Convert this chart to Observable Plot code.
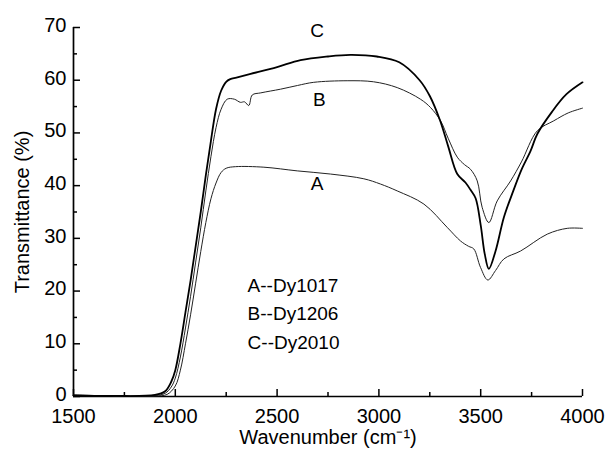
<!DOCTYPE html>
<html>
<head>
<meta charset="utf-8">
<script src="https://cdn.jsdelivr.net/npm/d3@7"></script>
<script src="https://cdn.jsdelivr.net/npm/@observablehq/plot@0.6"></script>
<style>
  html, body { margin: 0; padding: 0; background: #fff; }
  #chart svg { display: block; }
</style>
</head>
<body>
<div id="chart"></div>
<script>
// Series C (Dy2010, thick line)
const cX = [1500,1700,1900,1950,1980,2000,2025,2050,2075,2100,2125,2150,2175,2200,2225,2250,2270,2300,2370,2500,2615,2750,2860,2990,3100,3200,3250,3300,3340,3385,3425,3450,3475,3500,3520,3540,3573,3614,3660,3700,3745,3778,3850,3920,4000];
const cY = [0.2,0.1,0.3,1,2.8,5,10,16,22,28.5,35,42,48.5,54.5,58,59.7,60.2,60.5,61.2,62.5,63.8,64.5,64.8,64.5,63.4,60,57,52.4,47.5,42.2,40.6,39.2,37.6,32.5,27,24.2,27.6,34,39,43,46.6,49.8,54,57.3,59.6];
// Series B (Dy1206)
const bX = [1500,1700,1900,1950,1980,2000,2025,2050,2075,2100,2125,2150,2175,2200,2225,2255,2290,2320,2340,2361,2378,2420,2517,2600,2680,2844,2974,3090,3204,3254,3303,3340,3385,3420,3450,3483,3507,3540,3581,3647,3700,3778,3859,3930,4000];
const bY = [0.2,0.1,0.2,0.6,1.8,3.5,7.5,13,19,25.5,32,39,45.5,51,54.5,56.4,56.4,55.8,55.9,55.2,57.2,57.6,58.3,59,59.6,59.9,59.7,58.6,56.4,54.8,52.3,49,45.4,44,43.1,40.9,35.9,33,37.1,40.9,44.5,50.4,52.3,53.8,54.7];
// Series A (Dy1017)
const aX = [1500,1700,1900,1960,2000,2025,2050,2075,2100,2125,2150,2175,2200,2225,2250,2296,2435,2599,2762,2926,3008,3090,3221,3335,3401,3440,3466,3499,3535,3573,3614,3696,3827,3925,4000];
const aY = [0.3,0.1,0.1,0.4,2,5,10,15.5,21.5,27.5,33,37.5,40.5,42.5,43.3,43.6,43.5,42.8,42.2,41.3,40.3,39,36.5,32.1,29.5,28.5,28,24.5,22.1,23.9,26.1,27.6,30.8,31.9,31.9];

const xTicks = [1500,2000,2500,3000,3500,4000];
const xMinor = [1750,2250,2750,3250,3750];
const yTicks = [0,10,20,30,40,50,60,70];
const yMinor = [5,15,25,35,45,55,65];

const curveLabels = ["C","B","A"];
const curveLabelX = [2697,2707,2697];
const curveLabelY = [69.4,56.3,40.4];
const legendLines = ["A--Dy1017","B--Dy1206","C--Dy2010"];
const legendX = [2355,2355,2355];
const legendY = [21,15.7,10.2];

const toRows = (xs, ys) => xs.map((x, i) => ({x, y: ys[i]}));
const A = toRows(aX, aY), B = toRows(bX, bY), C = toRows(cX, cY);
const font = "'Liberation Sans', Arial, Helvetica, sans-serif";

const chart = Plot.plot({
  width: 611,
  height: 461,
  marginLeft: 73,
  marginRight: 29,
  marginTop: 27,
  marginBottom: 65,
  style: {fontFamily: font, color: "#000", background: "#fff"},
  x: {domain: [1500, 4000]},
  y: {domain: [0, 70]},
  marks: [
    Plot.axisX(xTicks, {tickSize: 0, tickPadding: 12, fontSize: 20, label: null, tickFormat: d => String(d)}),
    Plot.axisX(xTicks, {tickSize: -7, tickFormat: () => "", label: null, strokeWidth: 1.5}),
    Plot.axisX(xMinor, {tickSize: -4, tickFormat: () => "", label: null, strokeWidth: 1.5}),
    Plot.axisY(yTicks, {tickSize: 0, tickPadding: 7, fontSize: 20, label: null, dy: -2, tickFormat: d => String(d)}),
    Plot.axisY(yTicks, {tickSize: -7, tickFormat: () => "", label: null, strokeWidth: 1.5}),
    Plot.axisY(yMinor, {tickSize: -4, tickFormat: () => "", label: null, strokeWidth: 1.5}),
    Plot.ruleY([0], {strokeWidth: 1.7}),
    Plot.ruleX([1500], {strokeWidth: 1.7}),
    Plot.line(A, {x: "x", y: "y", stroke: "#222", strokeWidth: 1, curve: "catmull-rom"}),
    Plot.line(B, {x: "x", y: "y", stroke: "#222", strokeWidth: 1, curve: "catmull-rom"}),
    Plot.line(C, {x: "x", y: "y", stroke: "#000", strokeWidth: 1.8, curve: "catmull-rom"}),
    Plot.text(curveLabels, {x: (d, i) => curveLabelX[i], y: (d, i) => curveLabelY[i], text: d => d, fontSize: 19, fill: "#000"}),
    Plot.text(legendLines, {x: (d, i) => legendX[i], y: (d, i) => legendY[i], text: d => d, fontSize: 19, textAnchor: "start", fill: "#000"}),
    Plot.text(["Wavenumber (cm\u207B\u00B9)"], {frameAnchor: "bottom", dy: 47, text: d => d, fontSize: 20, fill: "#000"}),
    Plot.text(["Transmittance (%)"], {frameAnchor: "left", dx: -51, rotate: -90, textAnchor: "middle", text: d => d, fontSize: 20, fill: "#000"})
  ]
});
document.getElementById("chart").appendChild(chart);
</script>
</body>
</html>
